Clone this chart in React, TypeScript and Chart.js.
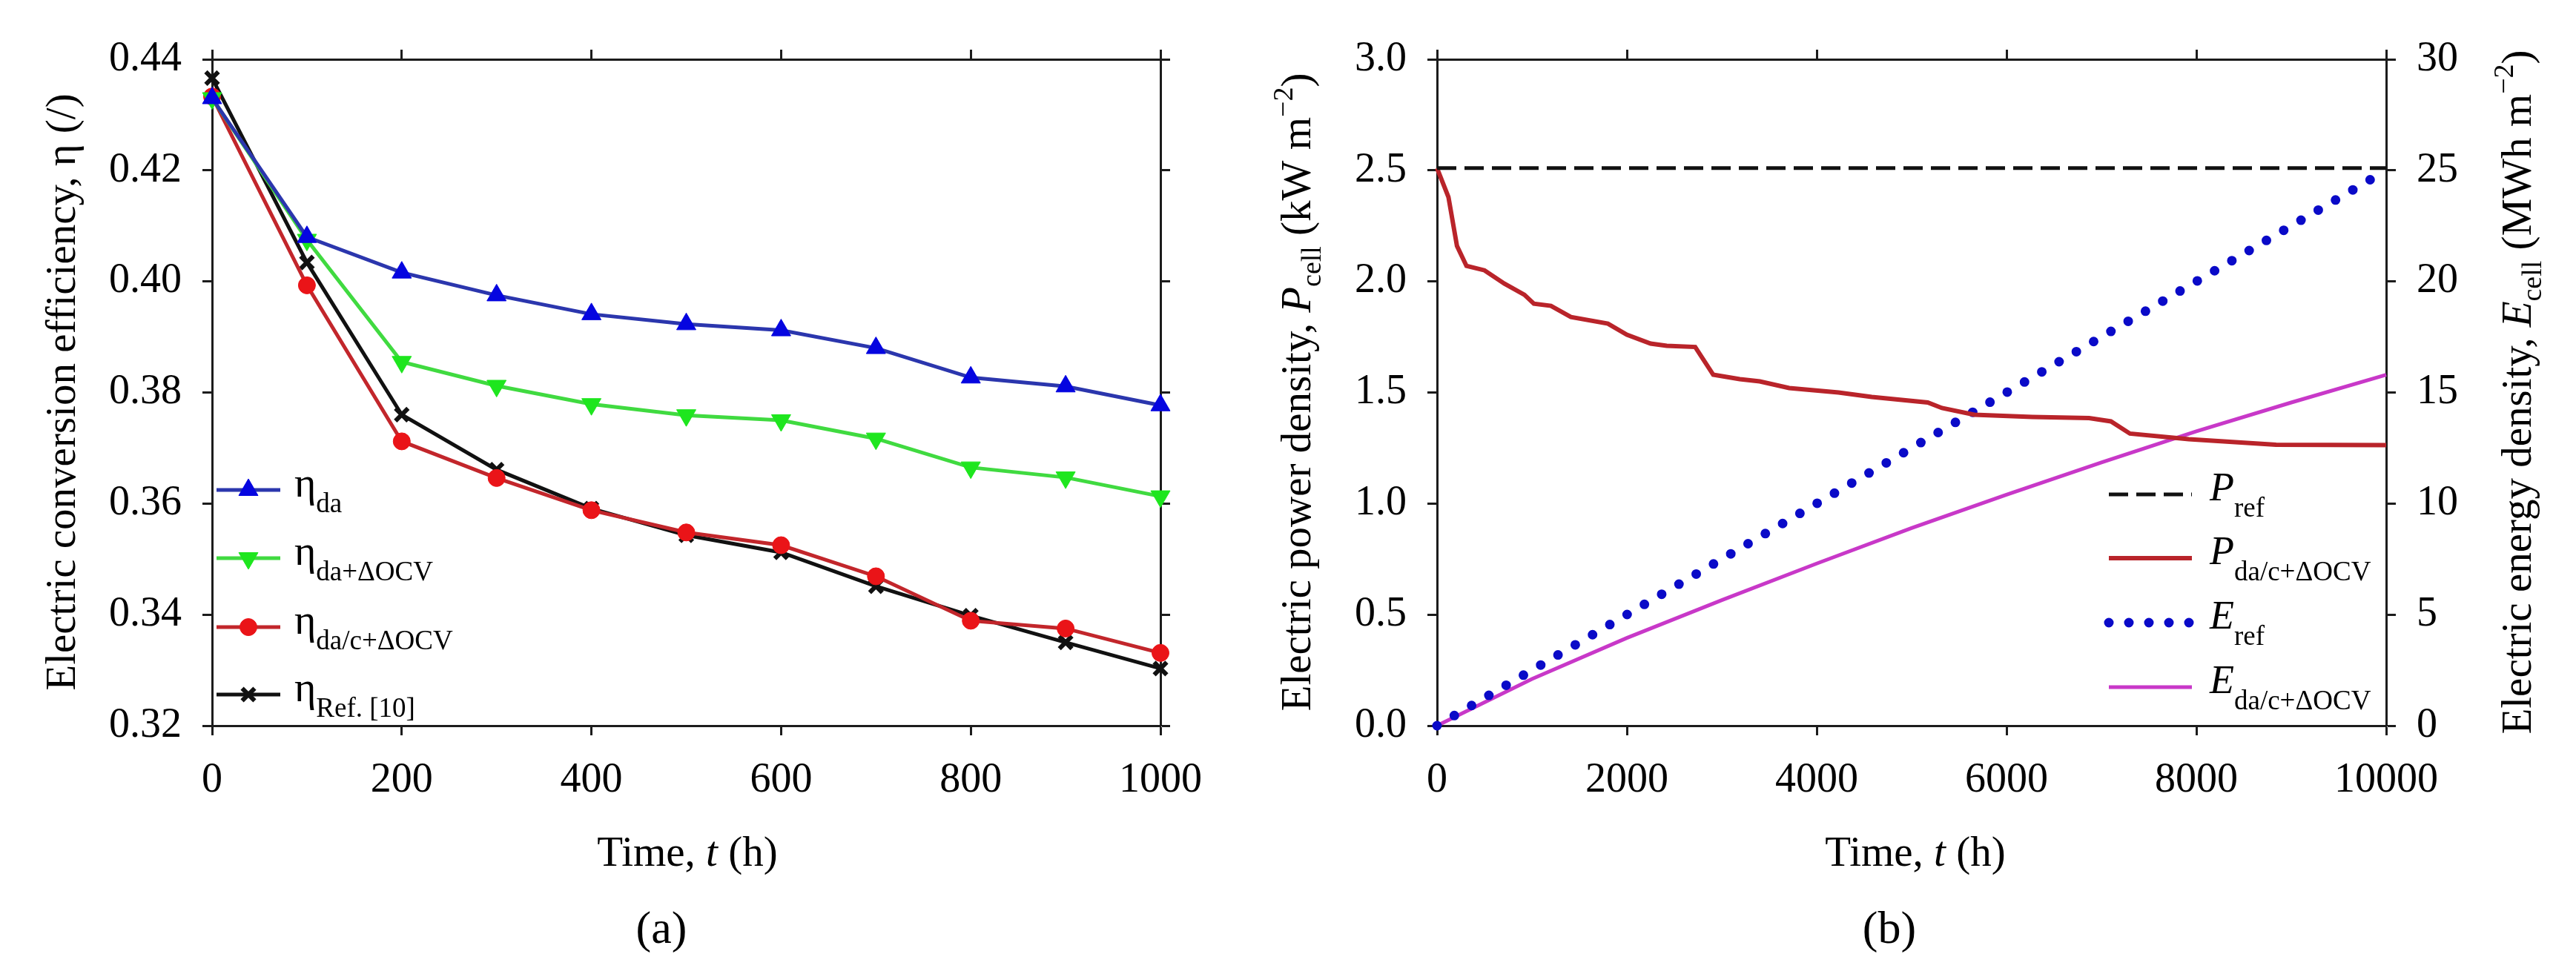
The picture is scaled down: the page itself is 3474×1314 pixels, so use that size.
import { useEffect, useRef } from "react"
import { Chart, registerables } from "chart.js"
import { drawPoint } from "chart.js/helpers"

Chart.register(...registerables)

const SERIF = "'Liberation Serif', 'Times New Roman', Times, serif"
const INK = "#1c1c1c"
const H = 1314

Chart.defaults.font.family = SERIF
Chart.defaults.color = "#000"

// ---- (a) electric conversion efficiency vs time ----
const TIME_A = [0, 100, 200, 300, 400, 500, 600, 700, 800, 900, 1000]
const ETA_DA = [0.433, 0.408, 0.4016, 0.3975, 0.3941, 0.3923, 0.3912, 0.388, 0.3827, 0.3811, 0.3777]
const ETA_DA_OCV = [0.433, 0.4075, 0.3855, 0.3812, 0.3779, 0.3759, 0.375, 0.3717, 0.3665, 0.3647, 0.3613]
const ETA_DAC_OCV = [0.4333, 0.3993, 0.3712, 0.3646, 0.3588, 0.3548, 0.3525, 0.3469, 0.3389, 0.3375, 0.3331]
const ETA_REF10 = [0.4366, 0.4034, 0.376, 0.3661, 0.3591, 0.3543, 0.3512, 0.3451, 0.3398, 0.335, 0.3303]
const X_TICKS_A = [0, 200, 400, 600, 800, 1000]
const Y_TICKS_A = [0.32, 0.34, 0.36, 0.38, 0.4, 0.42, 0.44]

// ---- (b) power / energy density vs time ----
const P_TIME = [
  0, 120, 210, 310, 500, 710, 920, 1020, 1200, 1410, 1800, 2000, 2250, 2420, 2720, 2910,
  3190, 3400, 3710, 4230, 4580, 5170, 5320, 5660, 6270, 6870, 7100, 7300, 7920, 8840, 10000,
]
const P_CELL = [
  2.51, 2.38, 2.16, 2.07, 2.05, 1.99, 1.94, 1.9, 1.89, 1.84, 1.81, 1.76, 1.72, 1.71, 1.705, 1.58,
  1.56, 1.55, 1.52, 1.5, 1.48, 1.455, 1.43, 1.4, 1.39, 1.385, 1.37, 1.315, 1.29, 1.265, 1.263,
]
const P_REF_TIME = [0, 10000]
const P_REF = [2.51, 2.51]
const E_TIME = [0, 1000, 2000, 3000, 4000, 5000, 6000, 7000, 8000, 9000, 10000]
const E_REF = [0, 2.5, 5, 7.5, 10, 12.5, 15, 17.5, 20, 22.5, 25]
const E_CELL = [0, 2.1, 3.95, 5.65, 7.3, 8.9, 10.4, 11.85, 13.25, 14.55, 15.8]
const X_TICKS_B = [0, 2000, 4000, 6000, 8000, 10000]
const P_TICKS = [0, 0.5, 1, 1.5, 2, 2.5, 3]
const E_TICKS = [0, 5, 10, 15, 20, 25, 30]

type Run = { t: string; it?: boolean; pos?: "sub" | "sup" }

const TITLE_A_Y: Run[] = [{ t: "Electric conversion efficiency, η (/)" }]
const TITLE_TIME: Run[] = [{ t: "Time, " }, { t: "t", it: true }, { t: " (h)" }]
const TITLE_B_P: Run[] = [
  { t: "Electric power density, " }, { t: "P", it: true }, { t: "cell", pos: "sub" },
  { t: " (kW m" }, { t: "−2", pos: "sup" }, { t: ")" },
]
const TITLE_B_E: Run[] = [
  { t: "Electric energy density, " }, { t: "E", it: true }, { t: "cell", pos: "sub" },
  { t: " (MWh m" }, { t: "−2", pos: "sup" }, { t: ")" },
]
const LEGEND_A: Run[][] = [
  [{ t: "η" }, { t: "da", pos: "sub" }],
  [{ t: "η" }, { t: "da+ΔOCV", pos: "sub" }],
  [{ t: "η" }, { t: "da/c+ΔOCV", pos: "sub" }],
  [{ t: "η" }, { t: "Ref. [10]", pos: "sub" }],
]
const LEGEND_B: Run[][] = [
  [{ t: "P", it: true }, { t: "ref", pos: "sub" }],
  [{ t: "P", it: true }, { t: "da/c+ΔOCV", pos: "sub" }],
  [{ t: "E", it: true }, { t: "ref", pos: "sub" }],
  [{ t: "E", it: true }, { t: "da/c+ΔOCV", pos: "sub" }],
]

const runFont = (r: Run, size: number, small: number) =>
  `${r.it ? "italic " : ""}${r.pos ? small : size}px ${SERIF}`

function drawRich(
  ctx: CanvasRenderingContext2D,
  runs: Run[],
  x: number,
  y: number,
  size: number,
  small: number,
  o: { center?: boolean; vertical?: boolean; subDy?: number; supDy?: number } = {}
) {
  ctx.save()
  ctx.translate(x, y)
  if (o.vertical) ctx.rotate(-Math.PI / 2)
  ctx.fillStyle = "#000"
  ctx.textAlign = "left"
  ctx.textBaseline = "alphabetic"
  let w = 0
  for (const r of runs) {
    ctx.font = runFont(r, size, small)
    w += ctx.measureText(r.t).width
  }
  let cx = o.center ? -w / 2 : 0
  for (const r of runs) {
    ctx.font = runFont(r, size, small)
    const dy = r.pos === "sub" ? o.subDy ?? size * 0.3 : r.pos === "sup" ? -(o.supDy ?? size * 0.42) : 0
    ctx.fillText(r.t, cx, dy)
    cx += ctx.measureText(r.t).width
  }
  ctx.restore()
}

// legend rows drawn from the datasets' own styles
function drawLegend(
  chart: Chart,
  rows: Run[][],
  g: { x0: number; x1: number; tx: number; ys: number[]; base: number; size: number; small: number; subDy: number }
) {
  const ctx = chart.ctx
  rows.forEach((runs, i) => {
    const ds: any = chart.data.datasets[i]
    const y = g.ys[i]
    ctx.save()
    ctx.strokeStyle = ds.borderColor
    ctx.lineWidth = ds.borderWidth
    ctx.lineCap = ds.borderCapStyle || "butt"
    ctx.setLineDash(ds.borderDash || [])
    ctx.beginPath()
    ctx.moveTo(g.x0, y)
    ctx.lineTo(g.x1, y)
    ctx.stroke()
    ctx.setLineDash([])
    if (ds.pointRadius > 0) {
      ctx.fillStyle = ds.pointBackgroundColor
      ctx.strokeStyle = ds.pointBorderColor
      ctx.lineWidth = ds.pointBorderWidth
      drawPoint(
        ctx,
        { pointStyle: ds.pointStyle, radius: ds.pointRadius, rotation: ds.pointRotation || 0, borderWidth: ds.pointBorderWidth } as any,
        (g.x0 + g.x1) / 2,
        y
      )
    }
    ctx.restore()
    drawRich(ctx, runs, g.tx, y + g.base, g.size, g.small, { subDy: g.subDy })
  })
}

function axis(position: string, min: number, max: number, ticks: number[], fit: number, labels: boolean, fmt: (v: number) => string) {
  return {
    type: "linear",
    position,
    min,
    max,
    afterBuildTicks: (s: any) => {
      s.ticks = ticks.map((v) => ({ value: v }))
    },
    afterFit: (s: any) => {
      if (s.isHorizontal()) s.height = fit
      else s.width = fit
    },
    grid: { display: true, drawOnChartArea: false, drawTicks: true, tickLength: 13, tickWidth: 3, tickColor: INK },
    border: { display: true, color: INK, width: 3 },
    ticks: {
      display: labels,
      padding: 28,
      color: "#000",
      autoSkip: false,
      maxRotation: 0,
      font: { family: SERIF, size: 56, style: "normal", weight: "normal" },
      callback: (v: any) => fmt(Number(v)),
    },
  }
}

const pts = (xs: number[], ys: number[]) => xs.map((x, i) => ({ x, y: ys[i] }))

const base = {
  responsive: false,
  animation: false,
  devicePixelRatio: 1,
  events: [],
  layout: { padding: 0 },
  plugins: { legend: { display: false }, tooltip: { enabled: false } },
}

// canvas (a): 0..1650, plot box 286..1565 x 80..979
const buildA = () => {
  const series = (data: number[], line: string, mark: string, style: string, rot: number, r: number, bw: number) => ({
    data: pts(TIME_A, data),
    borderColor: line,
    borderWidth: 5,
    pointStyle: style,
    pointRotation: rot,
    pointRadius: r,
    pointBackgroundColor: mark,
    pointBorderColor: mark,
    pointBorderWidth: bw,
    clip: false,
    tension: 0,
  })
  return {
    type: "line",
    data: {
      datasets: [
        series(ETA_DA, "#2b36ad", "#0505e0", "triangle", 0, 15, 1),
        series(ETA_DA_OCV, "#40da40", "#1ee61e", "triangle", 180, 15, 1),
        series(ETA_DAC_OCV, "#c2262b", "#ea1418", "circle", 0, 11.5, 1),
        series(ETA_REF10, "#111111", "#111111", "crossRot", 0, 12, 6),
      ],
    },
    options: {
      ...base,
      scales: {
        x: axis("bottom", 0, 1000, X_TICKS_A, H - 979, true, (v) => String(v)),
        x2: axis("top", 0, 1000, X_TICKS_A, 80, false, (v) => String(v)),
        y: axis("left", 0.32, 0.44, Y_TICKS_A, 286, true, (v) => v.toFixed(2)),
        y2: axis("right", 0.32, 0.44, Y_TICKS_A, 1650 - 1565, false, (v) => v.toFixed(2)),
      },
    },
    plugins: [
      {
        id: "textsA",
        afterDraw(chart: Chart) {
          const ctx = chart.ctx
          drawRich(ctx, TITLE_A_Y, 101, 529, 57, 38, { center: true, vertical: true })
          drawRich(ctx, TITLE_TIME, 927, 1168, 57, 38, { center: true })
          drawRich(ctx, [{ t: "(a)" }], 892, 1272, 62, 40, { center: true })
          drawLegend(chart, LEGEND_A, { x0: 292, x1: 378, tx: 397, ys: [661, 753, 846, 937], base: 9, size: 56, small: 37, subDy: 21 })
        },
      },
    ],
  }
}

// canvas (b): 1650..3474, plot box 1938..3218 x 80..979
const OFF_B = 1650
const buildB = () => ({
  type: "line",
  data: {
    datasets: [
      {
        data: pts(P_REF_TIME, P_REF),
        yAxisID: "y",
        borderColor: "#111111",
        borderWidth: 5,
        borderDash: [26, 11],
        pointRadius: 0,
        clip: false,
      },
      {
        data: pts(P_TIME, P_CELL),
        yAxisID: "y",
        borderColor: "#b9242a",
        borderWidth: 6,
        pointRadius: 0,
        clip: false,
      },
      {
        data: pts(E_TIME, E_REF),
        yAxisID: "yE",
        borderColor: "#0a0ac8",
        borderWidth: 13,
        borderCapStyle: "round",
        borderDash: [0, 27],
        pointRadius: 0,
        clip: false,
      },
      {
        data: pts(E_TIME, E_CELL),
        yAxisID: "yE",
        borderColor: "#c838c8",
        borderWidth: 5,
        pointRadius: 0,
        clip: false,
      },
    ],
  },
  options: {
    ...base,
    scales: {
      x: axis("bottom", 0, 10000, X_TICKS_B, H - 979, true, (v) => String(v)),
      x2: axis("top", 0, 10000, X_TICKS_B, 80, false, (v) => String(v)),
      y: axis("left", 0, 3, P_TICKS, 1938 - OFF_B, true, (v) => v.toFixed(1)),
      yE: axis("right", 0, 30, E_TICKS, 3474 - 3218, true, (v) => String(v)),
    },
  },
  plugins: [
    {
      id: "textsB",
      afterDraw(chart: Chart) {
        const ctx = chart.ctx
        drawRich(ctx, TITLE_B_P, 1767 - OFF_B, 529, 57, 38, { center: true, vertical: true, subDy: 14, supDy: 24 })
        drawRich(ctx, TITLE_B_E, 3413 - OFF_B, 529, 57, 38, { center: true, vertical: true, subDy: 14, supDy: 24 })
        drawRich(ctx, TITLE_TIME, 2583 - OFF_B, 1168, 57, 38, { center: true })
        drawRich(ctx, [{ t: "(b)" }], 2548 - OFF_B, 1272, 62, 40, { center: true })
        drawLegend(chart, LEGEND_B, {
          x0: 2844 - OFF_B,
          x1: 2956 - OFF_B,
          tx: 2980 - OFF_B,
          ys: [667, 753, 840, 927],
          base: 8,
          size: 54,
          small: 37,
          subDy: 22,
        })
      },
    },
  ],
})

function ChartCanvas({ left, width, build }: { left: number; width: number; build: () => any }) {
  const canvasRef = useRef<HTMLCanvasElement>(null)

  useEffect(() => {
    if (!canvasRef.current) return
    const chart = new Chart(canvasRef.current, build())
    return () => chart.destroy()
  }, [build])

  return (
    <canvas
      ref={canvasRef}
      width={width}
      height={H}
      style={{ position: "absolute", left, top: 0, width, height: H }}
    />
  )
}

export default function App() {
  return (
    <div style={{ position: "absolute", left: 0, top: 0, width: 3474, height: H, background: "#fff", overflow: "hidden" }}>
      <ChartCanvas left={0} width={OFF_B} build={buildA} />
      <ChartCanvas left={OFF_B} width={3474 - OFF_B} build={buildB} />
    </div>
  )
}
